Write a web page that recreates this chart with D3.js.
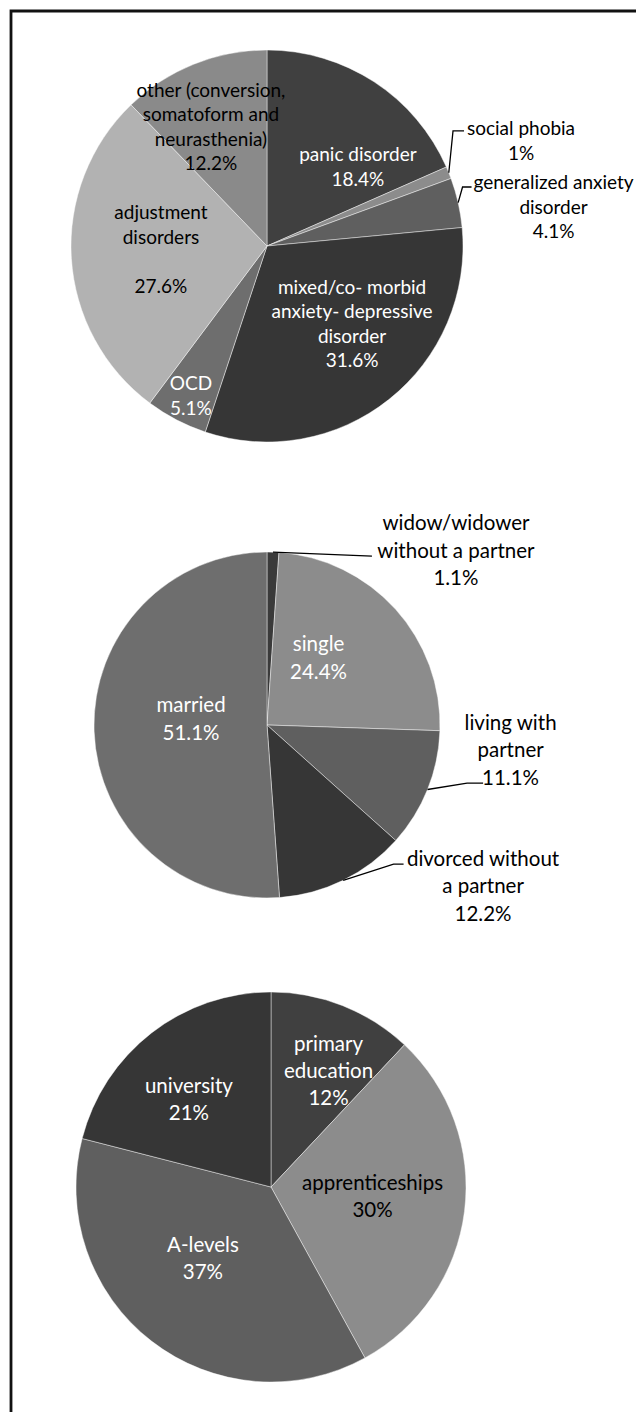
<!DOCTYPE html>
<html>
<head>
<meta charset="utf-8">
<script src="https://cdn.jsdelivr.net/npm/d3@7/dist/d3.min.js"></script>
<style>
  html, body { margin: 0; padding: 0; background: #fff; }
  svg { display: block; }
  text { font-family: Lato, "Open Sans", sans-serif; }
</style>
</head>
<body>
<svg id="chart" width="636" height="1412"></svg>
<script>
// ---- Data -------------------------------------------------------------
// Diagnoses
const diagnoses = ["panic disorder", "social phobia", "generalized anxiety disorder",
  "mixed/co- morbid anxiety- depressive disorder", "OCD", "adjustment disorders",
  "other (conversion, somatoform and neurasthenia)"];
const diagnosisShares = [18.4, 1, 4.1, 31.6, 5.1, 27.6, 12.2];
const diagnosisLabelLines = [
  ["panic disorder"], ["social phobia"], ["generalized anxiety", "disorder"],
  ["mixed/co- morbid", "anxiety- depressive", "disorder"], ["OCD"],
  ["adjustment", "disorders", ""], ["other (conversion,", "somatoform and", "neurasthenia)"]
];

// Marital status
const maritalStatus = ["widow/widower without a partner", "single", "living with partner",
  "divorced without a partner", "married"];
const maritalShares = [1.1, 24.4, 11.1, 12.2, 51.1];
const maritalLabelLines = [
  ["widow/widower", "without a partner"], ["single"], ["living with", "partner"],
  ["divorced without", "a partner"], ["married"]
];

// Education
const education = ["primary education", "apprenticeships", "A-levels", "university"];
const educationShares = [12, 30, 37, 21];
const educationLabelLines = [["primary", "education"], ["apprenticeships"], ["A-levels"], ["university"]];

// ---- Styles & layout ---------------------------------------------------
const diagnosisColors = ["#404040", "#8c8c8c", "#5f5f5f", "#363636", "#6e6e6e", "#b2b2b2", "#8a8a8a"];
const diagnosisTextColors = ["#fff", "#000", "#000", "#fff", "#fff", "#000", "#000"];
const maritalColors = ["#3a3a3a", "#8c8c8c", "#5f5f5f", "#363636", "#6e6e6e"];
const maritalTextColors = ["#000", "#fff", "#000", "#000", "#fff"];
const educationColors = ["#404040", "#8c8c8c", "#5f5f5f", "#363636"];
const educationTextColors = ["#fff", "#000", "#fff", "#fff"];

// label block centres, as offsets from the pie centre in radius units
const diagnosisLabelPos = [[0.464, -0.408], [1.296, -0.541], [1.462, -0.204], [0.434, 0.393],
  [-0.388, 0.760], [-0.541, 0.013], [-0.286, -0.612]];
const maritalLabelPos = [[1.092, -1.014], [0.298, -0.393], [1.408, 0.139], [1.249, 0.925], [-0.439, -0.040]];
const educationLabelPos = [[0.295, -0.600], [0.521, 0.044], [-0.349, 0.364], [-0.421, -0.456]];

// leader lines: knee and end point relative to the label block centre (px)
const diagnosisLeaders = { 1: [[-68, -9], [-57, -9]], 2: [[-91, -19], [-82, -19]] };
const maritalLeaders = { 0: [[-84, 6.5], [-84, 6.5]], 2: [[-43.5, 34], [-27.5, 34]], 3: [[-89.5, -21], [-79.5, -21]] };

const pies = [
  { names: diagnoses, values: diagnosisShares, lines: diagnosisLabelLines, colors: diagnosisColors,
    textColors: diagnosisTextColors, labelPos: diagnosisLabelPos, leaders: diagnosisLeaders,
    cx: 267, cy: 246, r: 196, fontSize: 19, lineHeight: 24.5 },
  { names: maritalStatus, values: maritalShares, lines: maritalLabelLines, colors: maritalColors,
    textColors: maritalTextColors, labelPos: maritalLabelPos, leaders: maritalLeaders,
    cx: 267, cy: 725, r: 173, fontSize: 20.5, lineHeight: 27.5 },
  { names: education, values: educationShares, lines: educationLabelLines, colors: educationColors,
    textColors: educationTextColors, labelPos: educationLabelPos, leaders: {},
    cx: 271, cy: 1187, r: 195, fontSize: 20.5, lineHeight: 27 }
];

// ---- Drawing ------------------------------------------------------------
const svg = d3.select("#chart");

// frame
svg.append("path")
  .attr("d", "M11,1420 V11 H650")
  .attr("fill", "none")
  .attr("stroke", "#111")
  .attr("stroke-width", 2.8);

const pieLayout = d3.pie().sort(null).value(d => d).startAngle(0).endAngle(2 * Math.PI);

pies.forEach(cfg => {
  const g = svg.append("g").attr("transform", `translate(${cfg.cx},${cfg.cy})`);
  const arcs = pieLayout(cfg.values);
  const arc = d3.arc().innerRadius(0).outerRadius(cfg.r);

  g.selectAll("path.slice")
    .data(arcs)
    .join("path")
    .attr("class", "slice")
    .attr("d", arc)
    .attr("fill", (d, i) => cfg.colors[i])
    .attr("stroke", "#fff")
    .attr("stroke-opacity", 0.55)
    .attr("stroke-width", 0.8);

  arcs.forEach((a, i) => {
    const lx = cfg.labelPos[i][0] * cfg.r;
    const ly = cfg.labelPos[i][1] * cfg.r;

    // leader line from the slice edge to the label
    if (cfg.leaders[i]) {
      const mid = (a.startAngle + a.endAngle) / 2;
      const sx = cfg.r * Math.sin(mid), sy = -cfg.r * Math.cos(mid);
      const [k, e] = cfg.leaders[i];
      g.append("polyline")
        .attr("points", [[sx, sy], [lx + k[0], ly + k[1]], [lx + e[0], ly + e[1]]].map(p => p.join(",")).join(" "))
        .attr("fill", "none")
        .attr("stroke", "#000")
        .attr("stroke-width", 1.3);
    }

    const lines = cfg.lines[i].concat([`${a.data}%`]);
    const n = lines.length;
    const t = g.append("text")
      .attr("text-anchor", "middle")
      .attr("font-size", cfg.fontSize)
      .attr("fill", cfg.textColors[i]);
    lines.forEach((s, j) => {
      t.append("tspan")
        .attr("x", lx)
        .attr("y", ly + (j - (n - 1) / 2) * cfg.lineHeight)
        .attr("dominant-baseline", "central")
        .text(s);
    });
  });
});
</script>
</body>
</html>
